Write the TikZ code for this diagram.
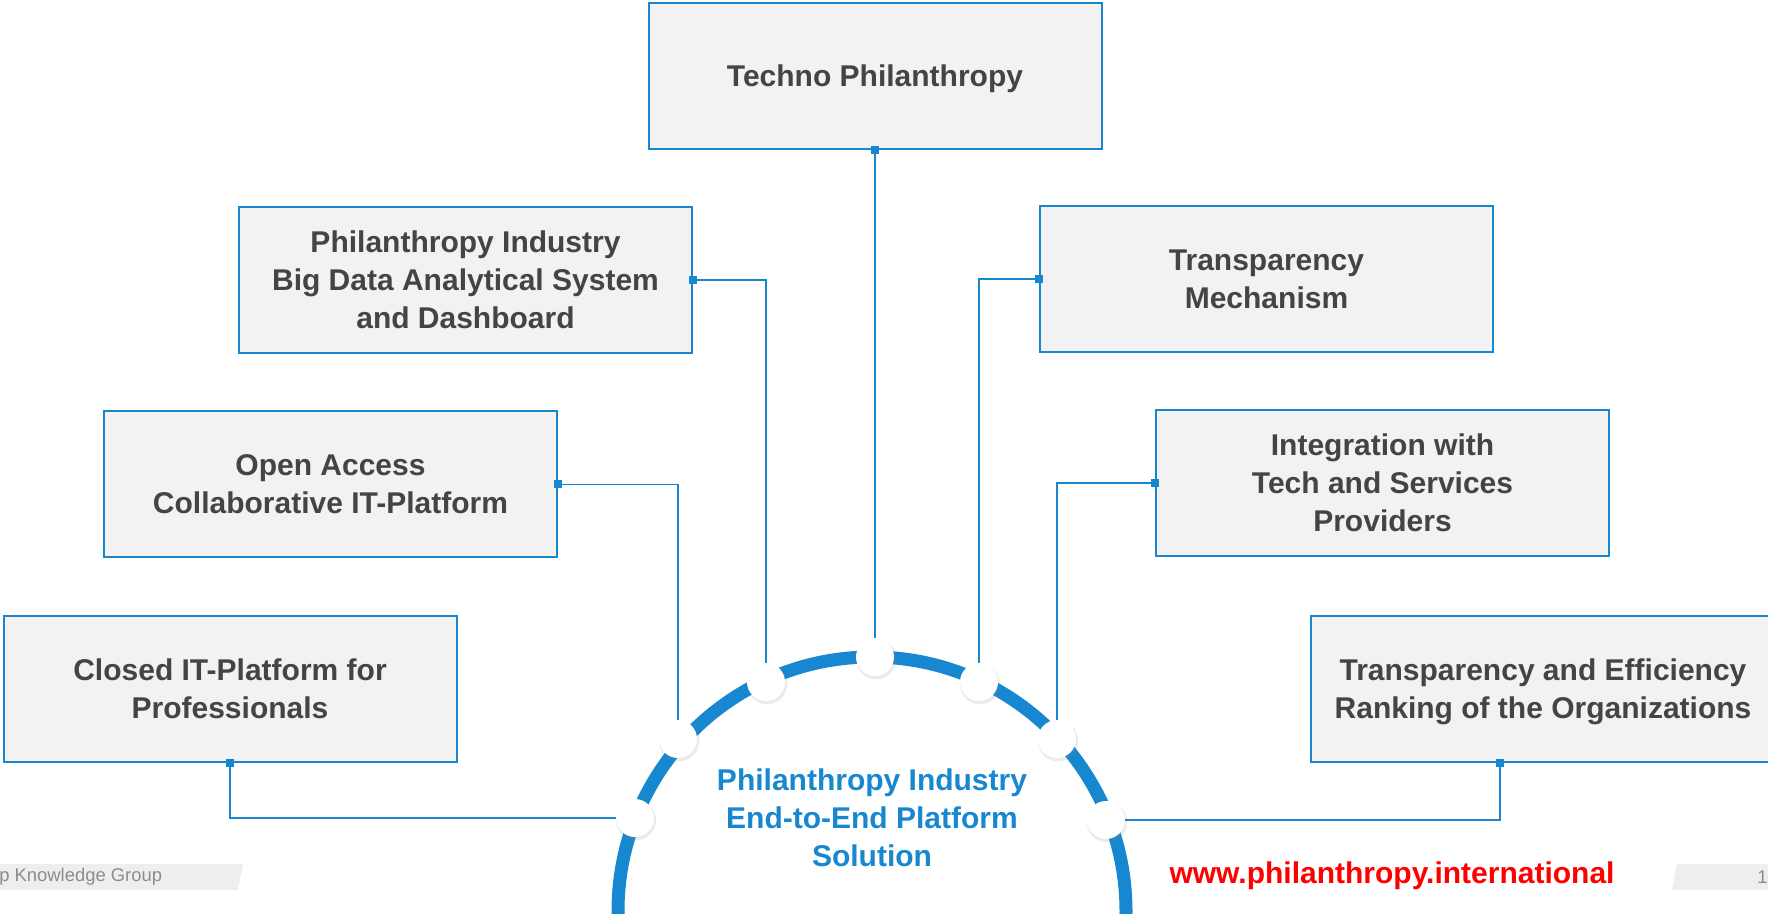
\documentclass[tikz,border=0pt]{standalone}
\usepackage{fontspec}
\setmainfont{Liberation Sans}
\usetikzlibrary{shadows}
\definecolor{boxblue}{HTML}{1788D0}
\definecolor{boxgray}{HTML}{F2F2F2}
\definecolor{textgray}{HTML}{444444}
\definecolor{bandgray}{HTML}{EEEEEE}
\definecolor{footgray}{HTML}{8C8C8C}
\definecolor{urlred}{HTML}{FF0000}
\begin{document}
\begin{tikzpicture}[x=0.5pt,y=-0.5pt,
	topic/.style={draw=boxblue,line width=1pt,fill=boxgray,minimum width=226.5pt,minimum height=73pt,align=center,inner sep=0pt,text depth=-2pt,text=textgray,font=\fontsize{15}{19}\selectfont\bfseries},
	knob/.style={circle,fill=white,minimum size=19pt,inner sep=0pt,drop shadow={opacity=0.16,shadow xshift=0.5pt,shadow yshift=-1pt,shadow scale=1.06}},
	conndot/.style={fill=boxblue,minimum size=4pt,inner sep=0pt},
	link/.style={draw=boxblue,line width=0.8pt}]
	\useasboundingbox (0,0) rectangle (1768,914);
	\clip (0,0) rectangle (1768,914);
	\draw [boxblue,line width=6.5pt] (872,911) circle [radius=127pt];
	\node [topic] (techno) at (875,76) {Techno Philanthropy};
	\node [topic] (bigdata) at (465.5,280) {Philanthropy Industry\\Big Data Analytical System\\and Dashboard};
	\node [topic] (access) at (330.5,484.5) {Open Access\\Collaborative IT-Platform};
	\node [topic] (closed) at (230,688.5) {Closed IT-Platform for\\Professionals};
	\node [topic] (mechanism) at (1266.5,279) {Transparency\\Mechanism};
	\node [topic] (integration) at (1382.5,483) {Integration with\\Tech and Services\\Providers};
	\node [topic,minimum width=232pt] (ranking) at (1543,689) {Transparency and Efficiency\\Ranking of the Organizations};
	\node [knob] (kc) at (875,657) {};
	\node [knob] (kl1) at (766,682) {};
	\node [knob] (kl2) at (678,739) {};
	\node [knob] (kl3) at (635,818) {};
	\node [knob] (kr1) at (979,682) {};
	\node [knob] (kr2) at (1057,739) {};
	\node [knob] (kr3) at (1106,820) {};
	\draw [link] (techno.south) -- (kc);
	\draw [link] (bigdata.east) -| (kl1);
	\draw [link] (access.east) -| (kl2);
	\draw [link] (closed.south) |- (kl3);
	\draw [link] (mechanism.west) -| (kr1);
	\draw [link] (integration.west) -| (kr2);
	\draw [link] ([xshift=-21.5pt]ranking.south) |- (kr3);
	\node [conndot] at (techno.south) {};
	\node [conndot] at (bigdata.east) {};
	\node [conndot] at (access.east) {};
	\node [conndot] at (closed.south) {};
	\node [conndot] at (mechanism.west) {};
	\node [conndot] at (integration.west) {};
	\node [conndot] at ([xshift=-21.5pt]ranking.south) {};
	\node [text=boxblue,align=center,font=\fontsize{15}{19}\selectfont\bfseries] (platform) at (872,818) {Philanthropy Industry\\End-to-End Platform\\Solution};
	\fill [bandgray] (0,864) -- (243,864) -- (238,890) -- (0,890) -- cycle;
	\node [anchor=west,inner sep=0pt,text=footgray,font=\fontsize{9.2}{10}\selectfont] (group) at (-1,877) {p Knowledge Group};
	\fill [bandgray] (1677,864) -- (1768,864) -- (1768,890) -- (1672,890) -- cycle;
	\node [anchor=west,inner sep=0pt,text=footgray,font=\fontsize{9.2}{10}\selectfont] (page) at (1757,877) {1};
	\node [text=urlred,font=\fontsize{15}{19}\selectfont\bfseries] (url) at (1392,876) {www.philanthropy.international};
\end{tikzpicture}
\end{document}
